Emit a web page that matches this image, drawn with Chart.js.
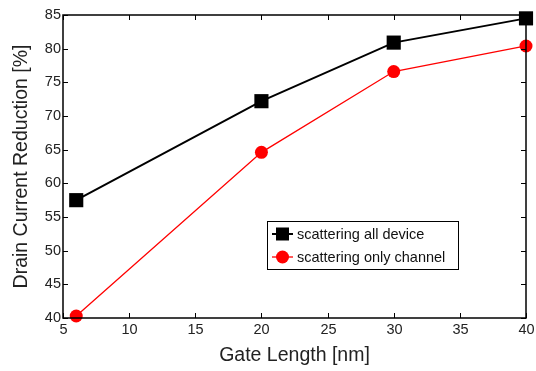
<!DOCTYPE html>
<html>
<head>
<meta charset="utf-8">
<script src="https://cdn.jsdelivr.net/npm/chart.js@4"></script>
<style>
  html, body { margin: 0; padding: 0; background: #fff; }
  #wrap { width: 536px; height: 371px; }
</style>
</head>
<body>
<div id="wrap"><canvas id="drain"></canvas></div>
<script>
const gateLength = [6, 20, 30, 40];
const allDevice = [57.5, 72.2, 80.9, 84.5];
const onlyChannel = [40.3, 64.6, 76.6, 80.4];
const xTicks = [5, 10, 15, 20, 25, 30, 35, 40];
const yTicks = [40, 45, 50, 55, 60, 65, 70, 75, 80, 85];
const seriesNames = ['scattering all device', 'scattering only channel'];

const FONT = 'Liberation Sans, Arial, Helvetica, sans-serif';

// box around the plot with inward ticks on all four sides,
// plus the x tick labels (kept out of the layout so they can overhang)
const frameTicks = {
  id: 'frameTicks',
  afterDatasetsDraw(chart) {
    const { ctx, chartArea: a, scales: { x, y } } = chart;
    ctx.save();
    ctx.strokeStyle = '#000';
    ctx.lineWidth = 1;
    ctx.fillStyle = '#222';
    ctx.font = '14.5px ' + FONT;
    ctx.textAlign = 'center';
    ctx.textBaseline = 'top';
    xTicks.forEach(v => {
      const px = Math.round(x.getPixelForValue(v)) + 0.5;
      ctx.beginPath();
      ctx.moveTo(px, a.bottom); ctx.lineTo(px, a.bottom - 5);
      ctx.moveTo(px, a.top); ctx.lineTo(px, a.top + 5);
      ctx.stroke();
      ctx.fillText(String(v), px, a.bottom + 5);
    });
    yTicks.forEach(v => {
      const py = Math.round(y.getPixelForValue(v)) + 0.5;
      ctx.beginPath();
      ctx.moveTo(a.left, py); ctx.lineTo(a.left + 5, py);
      ctx.moveTo(a.right, py); ctx.lineTo(a.right - 5, py);
      ctx.stroke();
    });
    ctx.lineWidth = 1.5;
    ctx.strokeRect(a.left, a.top, a.right - a.left, a.bottom - a.top);
    ctx.restore();
  }
};

// legend box sitting inside the plot area
const innerLegend = {
  id: 'innerLegend',
  afterDraw(chart) {
    const { ctx } = chart;
    const bx = 267, by = 221, bw = 191, bh = 48;
    ctx.save();
    ctx.fillStyle = '#fff';
    ctx.fillRect(bx, by, bw, bh);
    ctx.strokeStyle = '#000';
    ctx.lineWidth = 1;
    ctx.strokeRect(bx + 0.5, by + 0.5, bw, bh);
    const rows = [
      { y: by + 13, color: '#000', lw: 2, square: true },
      { y: by + 36, color: '#ff0000', lw: 1.3, square: false }
    ];
    rows.forEach((r, i) => {
      ctx.strokeStyle = r.color;
      ctx.fillStyle = r.color;
      ctx.lineWidth = r.lw;
      ctx.beginPath();
      ctx.moveTo(bx + 5, r.y); ctx.lineTo(bx + 26, r.y);
      ctx.stroke();
      if (r.square) {
        ctx.fillRect(bx + 9, r.y - 6.5, 13, 13);
      } else {
        ctx.beginPath();
        ctx.arc(bx + 15.5, r.y, 6.5, 0, Math.PI * 2);
        ctx.fill();
      }
      ctx.fillStyle = '#111';
      ctx.font = '14.5px ' + FONT;
      ctx.textBaseline = 'middle';
      ctx.fillText(seriesNames[i], bx + 30, r.y + 1);
    });
    ctx.restore();
  }
};

new Chart(document.getElementById('drain'), {
  type: 'line',
  data: {
    datasets: [
      {
        label: seriesNames[0],
        data: gateLength.map((g, i) => ({ x: g, y: allDevice[i] })),
        borderColor: '#000',
        backgroundColor: '#000',
        borderWidth: 2,
        pointStyle: 'rect',
        pointRadius: 10,
        pointBorderWidth: 0,
        tension: 0
      },
      {
        label: seriesNames[1],
        data: gateLength.map((g, i) => ({ x: g, y: onlyChannel[i] })),
        borderColor: '#ff0000',
        backgroundColor: '#ff0000',
        borderWidth: 1.3,
        pointStyle: 'circle',
        pointRadius: 6.5,
        pointBorderWidth: 0,
        tension: 0
      }
    ]
  },
  options: {
    responsive: true,
    maintainAspectRatio: false,
    animation: false,
    clip: false,
    layout: { padding: { left: 0, top: 15, right: 7, bottom: 0 } },
    plugins: {
      legend: { display: false },
      tooltip: { enabled: false }
    },
    scales: {
      x: {
        type: 'linear',
        min: 5,
        max: 40,
        grid: { display: false, drawTicks: false },
        border: { display: false },
        afterFit: s => { s.height = 53; },
        ticks: { display: false },
        title: { display: true, text: 'Gate Length [nm]', color: '#222', font: { family: FONT, size: 19.5 }, padding: { top: 4 } }
      },
      y: {
        type: 'linear',
        min: 40,
        max: 85,
        grid: { display: false, drawTicks: false },
        border: { display: false },
        afterFit: s => { s.width = 63; s.paddingTop = 0; s.paddingBottom = 0; },
        afterBuildTicks: s => { s.ticks = yTicks.map(v => ({ value: v })); },
        ticks: { color: '#222', font: { family: FONT, size: 14.5 }, padding: 2 },
        title: { display: true, text: 'Drain Current Reduction [%]', color: '#222', font: { family: FONT, size: 19.5 }, padding: { top: 10, bottom: 0 } }
      }
    }
  },
  plugins: [frameTicks, innerLegend]
});
</script>
</body>
</html>
